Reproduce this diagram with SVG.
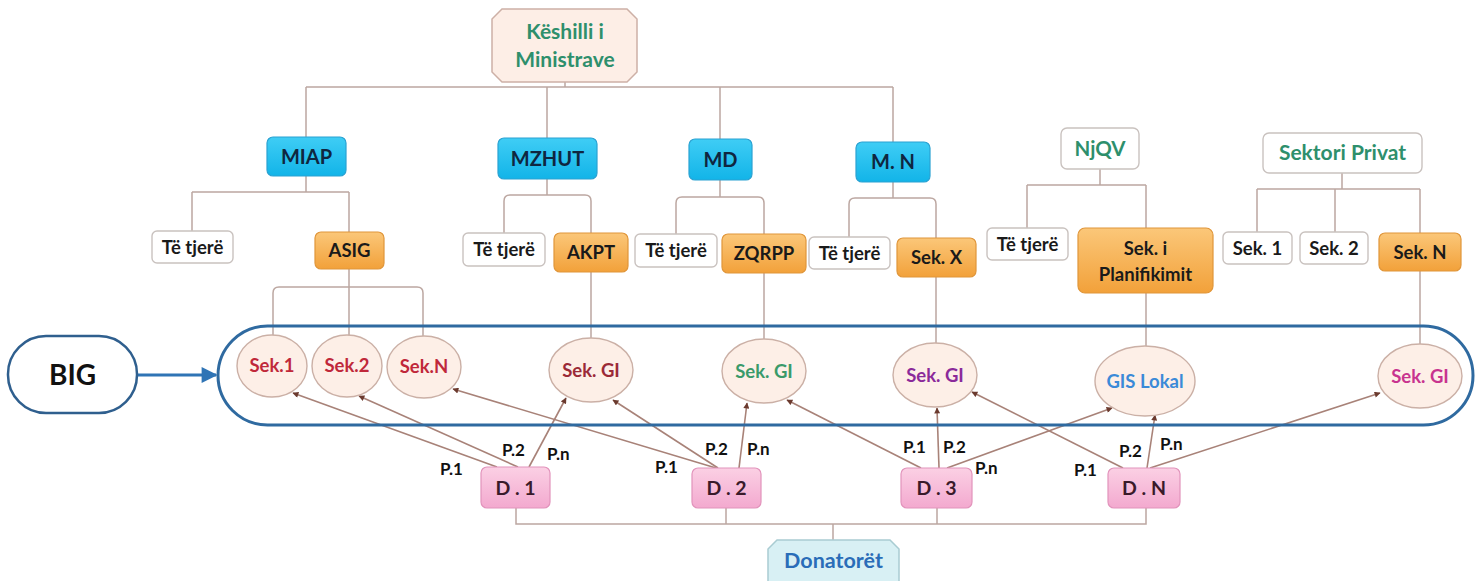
<svg xmlns="http://www.w3.org/2000/svg" width="1481" height="581" viewBox="0 0 1481 581">
<defs>
<linearGradient id="gBlue" x1="0" y1="0" x2="0" y2="1"><stop offset="0" stop-color="#3fcdf5"/><stop offset="1" stop-color="#12b4e8"/></linearGradient>
<linearGradient id="gOrange" x1="0" y1="0" x2="0" y2="1"><stop offset="0" stop-color="#fbc779"/><stop offset="1" stop-color="#f2a13a"/></linearGradient>
<linearGradient id="gPink" x1="0" y1="0" x2="0" y2="1"><stop offset="0" stop-color="#fbd0e4"/><stop offset="1" stop-color="#f3a9cf"/></linearGradient>
<marker id="ah" viewBox="0 0 10 10" refX="9" refY="5" markerWidth="7" markerHeight="6" markerUnits="userSpaceOnUse" orient="auto"><path d="M0,0 L10,5 L0,10 z" fill="#6b3a2e"/></marker>
<marker id="bigArrow" viewBox="0 0 10 10" refX="9" refY="5" markerWidth="24" markerHeight="16" markerUnits="userSpaceOnUse" orient="auto"><path d="M0,0 L10,5 L0,10 z" fill="#2f74b5"/></marker>
<style>
text{font-family:Lato,"Open Sans","Liberation Sans",sans-serif;font-weight:bold;text-anchor:middle;}
.blue{fill:url(#gBlue);stroke:#2aa2d2;stroke-width:1.2;}
.orange{fill:url(#gOrange);stroke:#e0963a;stroke-width:1.2;}
.white{fill:#ffffff;stroke:#c9c2bf;stroke-width:1.4;}
.pink{fill:url(#gPink);stroke:#e293bb;stroke-width:1.2;}
.ell{fill:#fdefe7;stroke:#cbb0a6;stroke-width:1.4;}
.tree{fill:none;stroke:#bca7a1;stroke-width:1.5;}
.arr{fill:none;stroke:#a88278;stroke-width:1.6;marker-end:url(#ah);}
.tb{font-size:20px;fill:#0f2640;}
.tw{font-size:18.5px;fill:#1a1a1a;}
.tg{fill:#2e8f6c;}
.pl{font-size:17px;fill:#111;text-anchor:start;}
.te{font-size:18.5px;}
</style>
</defs>
<rect width="1481" height="581" fill="#ffffff"/>

<g id="connectors">
<path class="tree" d="M565,82 V87 M306,87 H893 M306,87 V137 M547,87 V138 M720,87 V139 M893,87 V142"/>
<path class="tree" d="M306,176 V192 M192,192 H349 M192,192 V231 M349,192 V232"/>
<path class="tree" d="M349,269 V336 M273,336 V293 Q273,287 279,287 H417 Q423,287 423,293 V336"/>
<path class="tree" d="M547,179 V195 M504,233 V201 Q504,195 510,195 H585 Q591,195 591,201 V233 M591,272 V338"/>
<path class="tree" d="M720,180 V197 M676,234 V203 Q676,197 682,197 H758 Q764,197 764,203 V234 M764,273 V339"/>
<path class="tree" d="M893,182 V198 M849,237 V204 Q849,198 855,198 H930 Q936,198 936,204 V238 M936,277 V343"/>
<path class="tree" d="M1100,169 V185 M1027,185 H1146 M1027,185 V228 M1146,185 V228 M1146,293 V346"/>
<path class="tree" d="M1342,173 V189 M1257,189 H1420 M1257,189 V232 M1335,189 V232 M1420,189 V233 M1420,271 V344"/>
<path class="tree" d="M516,508 V524 H1146 V508 M726,508 V524 M937,508 V524 M833,524 V540"/>
<line x1="137" y1="375" x2="216" y2="375" stroke="#2f74b5" stroke-width="3" marker-end="url(#bigArrow)"/>
<line class="arr" x1="497" y1="467" x2="293" y2="393"/>
<line class="arr" x1="518" y1="467" x2="359" y2="396"/>
<line class="arr" x1="529" y1="467" x2="566" y2="398"/>
<line class="arr" x1="716" y1="468" x2="453" y2="389"/>
<line class="arr" x1="718" y1="468" x2="613" y2="400"/>
<line class="arr" x1="739" y1="468" x2="747" y2="403"/>
<line class="arr" x1="921" y1="468" x2="787" y2="400"/>
<line class="arr" x1="939" y1="468" x2="937" y2="408"/>
<line class="arr" x1="947" y1="468" x2="1112" y2="408"/>
<line class="arr" x1="1123" y1="468" x2="972" y2="392"/>
<line class="arr" x1="1147" y1="468" x2="1155" y2="415"/>
<line class="arr" x1="1150" y1="468" x2="1380" y2="393"/>
</g>

<g id="big-container"><rect x="218" y="326" width="1255" height="99" rx="49.5" fill="none" stroke="#2f6aa0" stroke-width="3"/></g>

<g id="keshilli"><polygon points="502,9 627,9 637,19 637,72 627,82 502,82 492,72 492,19" fill="#fdeee6" stroke="#cdb0a6" stroke-width="1.5"/><text x="565" y="39" font-size="21" class="tg">Këshilli i</text><text x="565" y="67" font-size="21" class="tg">Ministrave</text></g>

<g id="miap"><rect class="blue" x="267" y="137" width="79" height="39" rx="6"/><text class="tb" x="306.5" y="163.5">MIAP</text></g>
<g id="mzhut"><rect class="blue" x="498" y="138" width="99" height="41" rx="6"/><text class="tb" x="547.5" y="165.5">MZHUT</text></g>
<g id="md"><rect class="blue" x="689" y="139" width="63" height="41" rx="6"/><text class="tb" x="720.5" y="166.5">MD</text></g>
<g id="mn"><rect class="blue" x="856" y="142" width="74" height="40" rx="6"/><text class="tb" x="893" y="169">M. N</text></g>
<g id="njqv"><rect class="white" x="1061" y="128" width="78" height="41" rx="6"/><text x="1100" y="155.5" font-size="20.5" class="tg">NjQV</text></g>
<g id="sektori-privat"><rect class="white" x="1263" y="133" width="159" height="40" rx="6"/><text x="1342.5" y="160" font-size="21" class="tg">Sektori Privat</text></g>

<g id="tt1"><rect class="white" x="152" y="231" width="81" height="32" rx="5"/><text class="tw" x="192.5" y="253.5">Të tjerë</text></g>
<g id="asig"><rect class="orange" x="315" y="232" width="69" height="37" rx="6"/><text class="tw" x="349.5" y="257">ASIG</text></g>
<g id="tt2"><rect class="white" x="463" y="233" width="82" height="33" rx="5"/><text class="tw" x="504" y="256">Të tjerë</text></g>
<g id="akpt"><rect class="orange" x="554" y="233" width="74" height="39" rx="6"/><text class="tw" x="591" y="259">AKPT</text></g>
<g id="tt3"><rect class="white" x="635" y="234" width="82" height="33" rx="5"/><text class="tw" x="676" y="257">Të tjerë</text></g>
<g id="zqrpp"><rect class="orange" x="722" y="234" width="84" height="39" rx="6"/><text class="tw" x="764" y="260">ZQRPP</text></g>
<g id="tt4"><rect class="white" x="809" y="237" width="81" height="32" rx="5"/><text class="tw" x="849.5" y="259.5">Të tjerë</text></g>
<g id="sekx"><rect class="orange" x="897" y="238" width="79" height="39" rx="6"/><text class="tw" x="936.5" y="264">Sek. X</text></g>
<g id="tt5"><rect class="white" x="987" y="228" width="81" height="32" rx="5"/><text class="tw" x="1027.5" y="250.5">Të tjerë</text></g>
<g id="sek-plan"><rect class="orange" x="1078" y="228" width="135" height="65" rx="7"/><text class="tw" x="1145.5" y="255">Sek. i</text><text class="tw" x="1145.5" y="281">Planifikimit</text></g>
<g id="sp-sek1"><rect class="white" x="1223" y="232" width="69" height="32" rx="5"/><text class="tw" x="1257.5" y="254.5">Sek. 1</text></g>
<g id="sp-sek2"><rect class="white" x="1300" y="232" width="68" height="32" rx="5"/><text class="tw" x="1334" y="254.5">Sek. 2</text></g>
<g id="sp-sekn"><rect class="orange" x="1379" y="233" width="82" height="38" rx="6"/><text class="tw" x="1420" y="259">Sek. N</text></g>

<g id="big"><rect x="8" y="336" width="129" height="77" rx="38" fill="#ffffff" stroke="#2f5f8e" stroke-width="2.5"/><text x="72.5" y="385" font-size="28" fill="#111">BIG</text></g>

<g id="e-sek1"><ellipse class="ell" cx="272" cy="366" rx="35" ry="31"/><text class="te" x="272" y="372" fill="#c0283a">Sek.1</text></g>
<g id="e-sek2"><ellipse class="ell" cx="347" cy="366" rx="35" ry="31"/><text class="te" x="347" y="372" fill="#c0283a">Sek.2</text></g>
<g id="e-sekn"><ellipse class="ell" cx="424" cy="367" rx="37" ry="31"/><text class="te" x="424" y="373" fill="#c0283a">Sek.N</text></g>
<g id="e-gi1"><ellipse class="ell" cx="591" cy="370" rx="42" ry="32"/><text class="te" x="591" y="377" fill="#9b2a38">Sek. GI</text></g>
<g id="e-gi2"><ellipse class="ell" cx="764" cy="371" rx="42" ry="32"/><text class="te" x="764" y="378" fill="#3a9a6a">Sek. GI</text></g>
<g id="e-gi3"><ellipse class="ell" cx="935" cy="375" rx="42" ry="32"/><text class="te" x="935" y="382" fill="#8b2a9a">Sek. GI</text></g>
<g id="e-gis"><ellipse class="ell" cx="1145" cy="381" rx="50" ry="35"/><text class="te" x="1145" y="388" fill="#3b8ad8">GIS Lokal</text></g>
<g id="e-gi4"><ellipse class="ell" cx="1420" cy="376" rx="42" ry="32"/><text class="te" x="1420" y="383" fill="#c8338f">Sek. GI</text></g>

<g id="d1"><rect class="pink" x="481" y="467" width="69" height="41" rx="6"/><text x="515.5" y="495" font-size="19.5" fill="#3a1a2a">D . 1</text></g>
<g id="d2"><rect class="pink" x="692" y="468" width="69" height="40" rx="6"/><text x="726.5" y="495" font-size="19.5" fill="#3a1a2a">D . 2</text></g>
<g id="d3"><rect class="pink" x="901" y="468" width="71" height="40" rx="6"/><text x="936.5" y="495" font-size="19.5" fill="#3a1a2a">D . 3</text></g>
<g id="dn"><rect class="pink" x="1108" y="468" width="72" height="40" rx="6"/><text x="1144" y="495" font-size="19.5" fill="#3a1a2a">D . N</text></g>

<g id="donatoret"><polygon points="777,540 890,540 899,549 899,590 768,590 768,549" fill="#d8f0f4" stroke="#a9ccd2" stroke-width="1.5"/><text x="833.5" y="568" font-size="21.5" fill="#2a6db8">Donatorët</text></g>

<g id="labels">
<text class="pl" x="440" y="475">P.1</text><text class="pl" x="502" y="456">P.2</text><text class="pl" x="547" y="460">P.n</text>
<text class="pl" x="655" y="473">P.1</text><text class="pl" x="705" y="455">P.2</text><text class="pl" x="747" y="455">P.n</text>
<text class="pl" x="903" y="453">P.1</text><text class="pl" x="943" y="453">P.2</text><text class="pl" x="975" y="474">P.n</text>
<text class="pl" x="1074" y="476">P.1</text><text class="pl" x="1119" y="457">P.2</text><text class="pl" x="1160" y="450">P.n</text>
</g>
</svg>
